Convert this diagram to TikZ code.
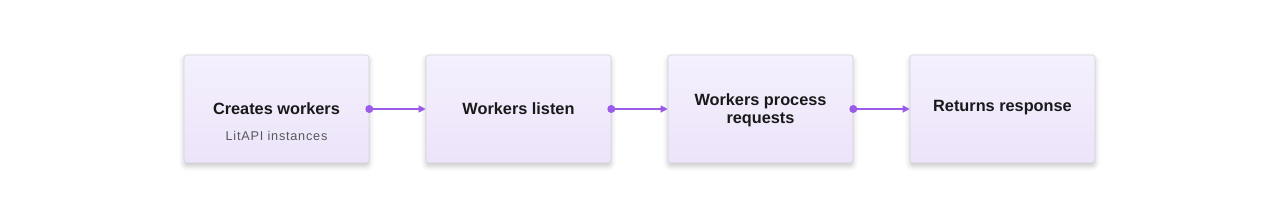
\documentclass[tikz,border=0pt]{standalone}
\usepackage{fontspec}
\setmainfont{Liberation Sans}
\usetikzlibrary{arrows.meta,shadows.blur}
\definecolor{boxtop}{HTML}{F4F0FD}
\definecolor{boxbot}{HTML}{ECE4FA}
\definecolor{boxline}{HTML}{D6D2DE}
\definecolor{arrowc}{HTML}{9A5CE8}
\definecolor{subtxt}{HTML}{585858}
\begin{document}
\begin{tikzpicture}[x=1pt,y=-1pt,
  stepbox/.style={rounded corners=3pt, draw=boxline, line width=0.6pt,
    top color=boxtop, bottom color=boxbot, minimum width=185pt, minimum height=108pt,
    blur shadow={shadow xshift=0pt, shadow yshift=-3pt, shadow blur radius=5pt, shadow opacity=22},
    align=center, inner sep=0pt},
  title/.style={font=\fontsize{16.3}{18}\selectfont\bfseries, text=black!90, align=center},
  sub/.style={font=\fontsize{12.7}{14}\selectfont\addfontfeatures{LetterSpace=6}, text=subtxt},
  conn/.style={draw=arrowc, line width=1.2pt, -{Triangle[length=7pt,width=7pt]}},
  dot/.style={circle, fill=arrowc, inner sep=0pt, minimum size=8pt}
]
\useasboundingbox (0,0) rectangle (1280,219);
\node[stepbox] (b1) at (276.5,109) {};
\node[stepbox] (b2) at (518.5,109) {};
\node[stepbox] (b3) at (760.5,109) {};
\node[stepbox] (b4) at (1002.5,109) {};
\node[title] (t1) at (276.5,109) {Creates workers};
\node[sub] (s1) at (276.5,135.5) {LitAPI instances};
\node[title] (t2) at (518.5,109) {Workers listen};
\node[title] (t3) at (760.5,110.5) {Workers process\\[0pt]requests};
\node[title] (t4) at (1002.5,107.5) {Returns response};
\node[dot] (d1) at (b1.east) {};
\node[dot] (d2) at (b2.east) {};
\node[dot] (d3) at (b3.east) {};
\draw[conn] (d1.center) -- (b2.west);
\draw[conn] (d2.center) -- (b3.west);
\draw[conn] (d3.center) -- (b4.west);
\end{tikzpicture}
\end{document}
